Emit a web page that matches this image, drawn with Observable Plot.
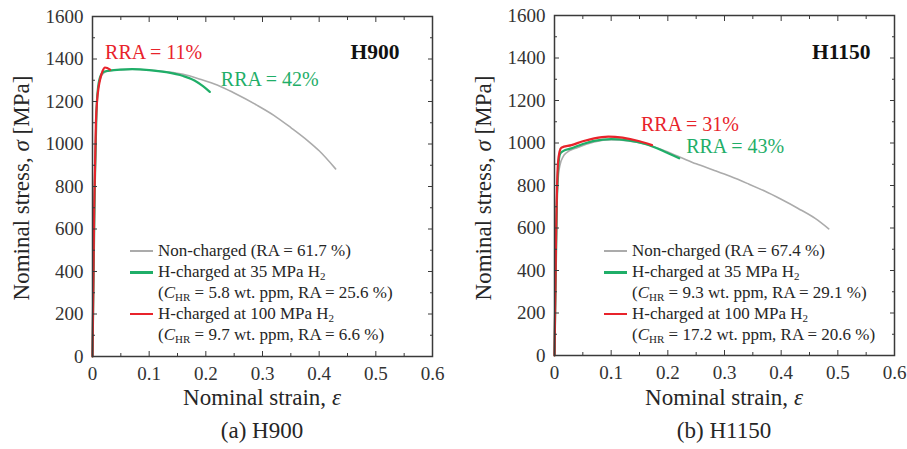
<!DOCTYPE html>
<html>
<head>
<meta charset="utf-8">
<script src="https://cdn.jsdelivr.net/npm/d3@7"></script>
<script src="https://cdn.jsdelivr.net/npm/@observablehq/plot@0.6"></script>
<style>
  body { margin: 0; background: #fff; }
  #wrap { position: relative; width: 907px; height: 449px; overflow: hidden;
          font-family: "Liberation Serif", "Times New Roman", serif; color: #262626; }
  .panel { position: absolute; top: 0; width: 453px; height: 449px; }
  .ov { position: absolute; white-space: nowrap; }
  .ytitle { width: 300px; text-align: center; font-size: 23px; line-height: 26px; transform: rotate(-90deg); }
  .xtitle { width: 300px; text-align: center; font-size: 23px; line-height: 26px; }
  .leg { font-size: 17px; line-height: 21px; }
  .sw { position: absolute; width: 23px; }
  sub { font-size: 11px; vertical-align: -3px; line-height: 0; }
</style>
</head>
<body>
<div id="wrap"></div>
<script>
// ---------- tick values ----------
const xMajor = [0, 0.1, 0.2, 0.3, 0.4, 0.5, 0.6];
const xMinor = [0.05, 0.15, 0.25, 0.35, 0.45, 0.55];
const yMajor = [0, 200, 400, 600, 800, 1000, 1200, 1400, 1600];
const yMinor = [100, 300, 500, 700, 900, 1100, 1300, 1500];

// ---------- H900 curves [strain, stress MPa] ----------
const h900NonCharged = [[0,0],[0.004,800],[0.007,1150],[0.010,1260],[0.015,1315],[0.02,1335],[0.03,1345],[0.05,1350],[0.07,1352],[0.10,1348],[0.13,1340],[0.16,1328],[0.19,1305],[0.22,1278],[0.25,1240],[0.29,1183],[0.32,1135],[0.35,1077],[0.38,1015],[0.40,968],[0.429,883]];
const h900H35 = [[0,0],[0.004,800],[0.007,1150],[0.010,1270],[0.015,1325],[0.02,1340],[0.03,1345],[0.05,1350],[0.07,1352],[0.10,1348],[0.13,1338],[0.16,1320],[0.18,1299],[0.195,1272],[0.207,1245]];
const h900H100 = [[0,0],[0.003,700],[0.006,1100],[0.008,1200],[0.011,1270],[0.014,1310],[0.018,1345],[0.022,1360],[0.026,1358],[0.031,1350]];

// ---------- H1150 curves ----------
const h1150NonCharged = [[0,0],[0.004,700],[0.007,850],[0.01,900],[0.015,935],[0.02,952],[0.04,978],[0.07,1005],[0.10,1015],[0.13,1010],[0.16,995],[0.19,968],[0.222,933],[0.25,902],[0.28,873],[0.31,843],[0.34,810],[0.37,775],[0.40,735],[0.43,692],[0.46,645],[0.484,596]];
const h1150H35 = [[0,0],[0.004,700],[0.007,900],[0.010,950],[0.015,962],[0.03,975],[0.05,995],[0.07,1010],[0.10,1018],[0.13,1012],[0.16,995],[0.19,965],[0.22,928]];
const h1150H100 = [[0,0],[0.003,600],[0.006,900],[0.009,960],[0.012,978],[0.03,990],[0.05,1008],[0.07,1022],[0.095,1030],[0.12,1025],[0.15,1008],[0.172,990]];

// ---------- texts ----------
const panelTitles = ["H900", "H1150"];
const captions = ["(a) H900", "(b) H1150"];
const rraRed = ["RRA = 11%", "RRA = 31%"];
const rraGreen = ["RRA = 42%", "RRA = 43%"];
const legendNC = ["Non-charged (RA = 61.7 %)", "Non-charged (RA = 67.4 %)"];
const legend35 = ["(<i>C</i><sub>HR</sub> = 5.8 wt. ppm, RA = 25.6 %)", "(<i>C</i><sub>HR</sub> = 9.3 wt. ppm, RA = 29.1 %)"];
const legend100 = ["(<i>C</i><sub>HR</sub> = 9.7 wt. ppm, RA = 6.6 %)", "(<i>C</i><sub>HR</sub> = 17.2 wt. ppm, RA = 20.6 %)"];

const GRAY = "#ababab", GREEN = "#1fae68", RED = "#e8232b";
const AX = "#3a3a3a";
const FONT = "'Liberation Serif', 'Times New Roman', serif";

const last = a => a[a.length - 1];

function panel(cfg) {
  const fx = d => d[0], fy = d => d[1];
  return Plot.plot({
    width: 453, height: 449,
    marginLeft: cfg.ml, marginRight: cfg.mr, marginTop: cfg.mt, marginBottom: cfg.mb,
    style: { fontFamily: FONT, fontSize: "18px", color: AX, background: "transparent", overflow: "visible" },
    x: { domain: [0, 0.6] },
    y: { domain: [0, 1600] },
    marks: [
      Plot.line(cfg.nc, { x: fx, y: fy, stroke: GRAY, strokeWidth: 1.6, curve: "monotone-x" }),
      Plot.line(cfg.h35, { x: fx, y: fy, stroke: GREEN, strokeWidth: 2.2, curve: "monotone-x" }),
      Plot.line(cfg.h100, { x: fx, y: fy, stroke: RED, strokeWidth: 2.2, curve: "monotone-x" }),
      Plot.frame({ stroke: AX, strokeWidth: 1.5 }),
      // labels
      Plot.axisX(xMajor, { anchor: "bottom", tickSize: 0, tickPadding: 10, tickFormat: d => String(d), label: null, fill: "#333", fontSize: 19 }),
      Plot.axisY(yMajor, { anchor: "left", tickSize: 0, tickPadding: 9, tickFormat: d => String(d), label: null, fill: "#333", fontSize: 19 }),
      // inward ticks
      Plot.axisX(xMajor, { anchor: "bottom", tickSize: -5, fill: "none", label: null, stroke: AX }),
      Plot.axisX(xMinor, { anchor: "bottom", tickSize: -3, fill: "none", label: null, stroke: AX }),
      Plot.axisX(xMajor, { anchor: "top", tickSize: -5, fill: "none", label: null, stroke: AX }),
      Plot.axisX(xMinor, { anchor: "top", tickSize: -3, fill: "none", label: null, stroke: AX }),
      Plot.axisY(yMajor, { anchor: "left", tickSize: -5, fill: "none", label: null, stroke: AX }),
      Plot.axisY(yMinor, { anchor: "left", tickSize: -3, fill: "none", label: null, stroke: AX }),
      Plot.axisY(yMajor, { anchor: "right", tickSize: -5, fill: "none", label: null, stroke: AX }),
      Plot.axisY(yMinor, { anchor: "right", tickSize: -3, fill: "none", label: null, stroke: AX }),
      // annotations anchored at fracture points
      Plot.text([last(cfg.h100)], { x: fx, y: fy, text: () => cfg.rraRed, fill: RED, fontSize: 20, textAnchor: "start", dx: cfg.redDx, dy: cfg.redDy }),
      Plot.text([last(cfg.h35)], { x: fx, y: fy, text: () => cfg.rraGreen, fill: GREEN, fontSize: 20, textAnchor: "start", dx: cfg.grDx, dy: cfg.grDy }),
      Plot.text([cfg.title], { frameAnchor: "top-right", text: d => d, fontSize: 21.5, fontWeight: "bold", fill: "#111", textAnchor: "end", dx: cfg.tDx, dy: cfg.tDy })
    ]
  });
}

const wrap = document.getElementById("wrap");
const cfgs = [
  { left: 0, ml: 92, mr: 21, mt: 16, mb: 93, nc: h900NonCharged, h35: h900H35, h100: h900H100,
    rraRed: rraRed[0], rraGreen: rraGreen[0], redDx: -5, redDy: -17, grDx: 11, grDy: -12,
    title: panelTitles[0], tDx: -33, tDy: 27 },
  { left: 454, ml: 100, mr: 13, mt: 15, mb: 94, nc: h1150NonCharged, h35: h1150H35, h100: h1150H100,
    rraRed: rraRed[1], rraGreen: rraGreen[1], redDx: -11, redDy: -21, grDx: 7, grDy: -12,
    title: panelTitles[1], tDx: -24, tDy: 28 }
];

cfgs.forEach((c, i) => {
  const p = document.createElement("div");
  p.className = "panel";
  p.style.left = c.left + "px";
  p.appendChild(panel(c));
  wrap.appendChild(p);

  const fl = c.left + c.ml;               // frame left in page px
  const fr = c.left + 453 - c.mr;          // frame right
  const cx = (fl + fr) / 2;

  const add = (cls, html, css) => {
    const d = document.createElement("div");
    d.className = "ov " + cls;
    d.innerHTML = html;
    Object.assign(d.style, css);
    wrap.appendChild(d);
    return d;
  };
  // axis titles
  add("ytitle", "Nominal stress, <i>σ</i> [MPa]", { left: (fl - 70 - 150) + "px", top: (188 - 13) + "px" });
  add("xtitle", "Nominal strain, <i>ε</i>", { left: (cx - 150) + "px", top: (399 - 14) + "px" });
  add("xtitle", captions[i], { left: (cx - 150) + "px", top: (432 - 14) + "px" });

  // legend
  const sx = fl + 38 + (i ? 12 : 0);
  const tx = sx + 28;
  const rows = [
    { html: legendNC[i], color: GRAY, w: 2 },
    { html: "H-charged at 35 MPa H<sub>2</sub>", color: GREEN, w: 3 },
    { html: legend35[i], color: null },
    { html: "H-charged at 100 MPa H<sub>2</sub>", color: RED, w: 2.5 },
    { html: legend100[i], color: null }
  ];
  rows.forEach((r, k) => {
    const yc = 251 + k * 21;
    add("leg", r.html, { left: tx + "px", top: (yc - 11) + "px" });
    if (r.color) {
      const s = document.createElement("div");
      s.className = "sw";
      Object.assign(s.style, { left: sx + "px", top: (yc - r.w / 2) + "px", height: r.w + "px", background: r.color });
      wrap.appendChild(s);
    }
  });
});
</script>
</body>
</html>
